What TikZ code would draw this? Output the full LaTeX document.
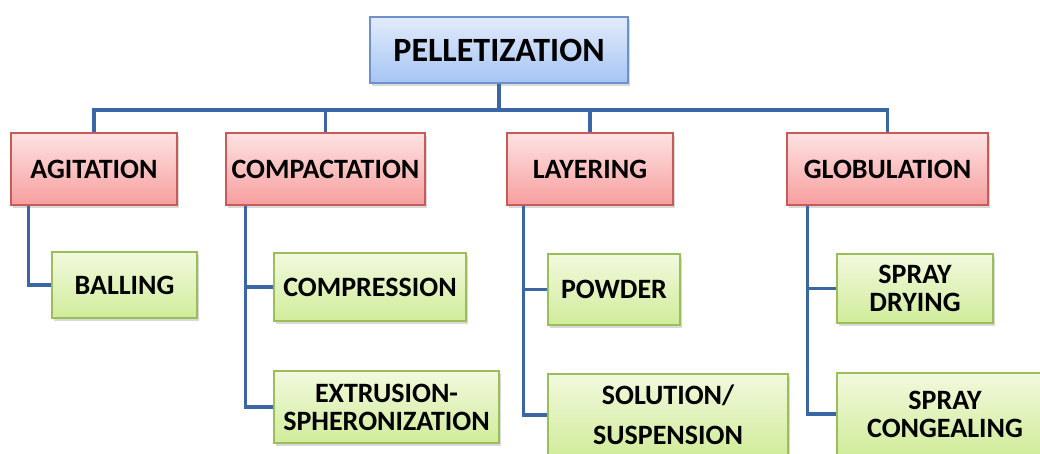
\documentclass[tikz,border=0pt]{standalone}
\usepackage{fontspec}
\setmainfont{Carlito}
\usetikzlibrary{shadows}

\definecolor{linkblue}{RGB}{58,102,164}

\begin{document}
\begin{tikzpicture}[
  x=1pt,y=-1pt,
  box/.style={rectangle,inner sep=0pt,align=center,line width=1.2pt,
    font=\fontsize{28}{28}\selectfont\bfseries,
    drop shadow={opacity=0.3,shadow xshift=2pt,shadow yshift=-3pt}},
  root/.style={box,draw={rgb,255:red,110;green,145;blue,205},
    top color={rgb,255:red,226;green,236;blue,252},
    bottom color={rgb,255:red,166;green,196;blue,243},
    font=\fontsize{34}{34}\selectfont\bfseries},
  group/.style={box,draw={rgb,255:red,200;green,90;blue,90},
    top color={rgb,255:red,253;green,226;blue,226},
    bottom color={rgb,255:red,247;green,158;blue,158}},
  leaf/.style={box,draw={rgb,255:red,155;green,190;blue,90},
    top color={rgb,255:red,242;green,249;blue,222},
    bottom color={rgb,255:red,208;green,236;blue,154}},
  link/.style={draw=linkblue,line width=3.8pt}
]
  \useasboundingbox (0,0) rectangle (1040,453);
  \clip (0,0) rectangle (1040,453);

  % top
  \node[root,minimum width=258,minimum height=66] (pell) at (499,50) {PELLETIZATION};

  % methods
  \node[group,minimum width=166,minimum height=72] (agit) at (94,169) {AGITATION};
  \node[group,minimum width=199,minimum height=72] (compact) at (325.5,169) {COMPACTATION};
  \node[group,minimum width=166,minimum height=72] (layer) at (590,169) {LAYERING};
  \node[group,minimum width=201,minimum height=72] (glob) at (887.5,169) {GLOBULATION};

  % techniques
  \node[leaf,minimum width=145,minimum height=66] (balling) at (124.5,285) {BALLING};
  \node[leaf,minimum width=192,minimum height=68] (compress) at (370,287) {COMPRESSION};
  \node[leaf,minimum width=225,minimum height=72] (extru) at (386.5,407) {EXTRUSION-\\SPHERONIZATION};
  \node[leaf,minimum width=132,minimum height=71] (powder) at (614,289.5) {POWDER};
  \node[leaf,minimum width=240,minimum height=82] (solution) at (668,415) {SOLUTION/\\[12pt]SUSPENSION};
  \node[leaf,minimum width=156,minimum height=69] (sdry) at (915,288.5) {SPRAY\\DRYING};
  \node[leaf,minimum width=216,minimum height=82] (scong) at (945,414) {SPRAY\\CONGEALING};

  % connectors
  \foreach \n in {agit,compact,layer,glob}
    \draw[link] (pell.south) -- ++(0,26) -| (\n.north);

  \draw[link] ([xshift=18pt]agit.south west) |- (balling.west);
  \draw[link] ([xshift=20pt]compact.south west) |- (compress.west);
  \draw[link] ([xshift=20pt]compact.south west) |- (extru.west);
  \draw[link] ([xshift=17pt]layer.south west) |- (powder.west);
  \draw[link] ([xshift=17pt]layer.south west) |- (solution.west);
  \draw[link] ([xshift=21pt]glob.south west) |- (sdry.west);
  \draw[link] ([xshift=21pt]glob.south west) |- (scong.west);
\end{tikzpicture}
\end{document}
